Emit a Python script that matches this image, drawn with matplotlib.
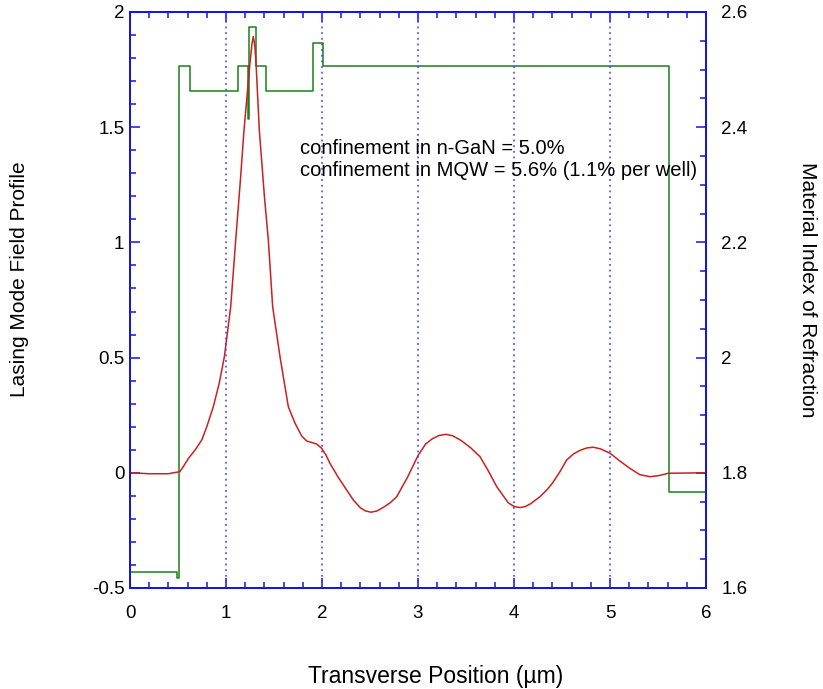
import matplotlib
matplotlib.use("Agg")
import matplotlib.pyplot as plt
from matplotlib.ticker import MultipleLocator, FormatStrFormatter

plt.rcParams["font.family"] = ["Liberation Sans", "DejaVu Sans"]
plt.rcParams["axes.unicode_minus"] = False

# Feldprofil (linke Achse)
pos_um = [0, 0.2, 0.4, 0.52, 0.56, 0.608, 0.68, 0.747, 0.80, 0.868, 0.93, 0.983,
          1.049, 1.101, 1.15, 1.1875, 1.22, 1.25, 1.27, 1.284, 1.30, 1.3125,
          1.347, 1.40, 1.441, 1.486, 1.5625, 1.649, 1.719, 1.788, 1.84, 1.944,
          1.997, 2.04, 2.083, 2.17, 2.257, 2.33, 2.40, 2.45, 2.51, 2.57, 2.64,
          2.71, 2.778, 2.89, 3.003, 3.08, 3.15, 3.22, 3.289, 3.36, 3.45, 3.55,
          3.646, 3.73, 3.82, 3.94, 4.0, 4.0625, 4.12, 4.17, 4.27, 4.34, 4.40,
          4.479, 4.549, 4.62, 4.69, 4.76, 4.826, 4.9, 5.0, 5.1, 5.208, 5.31,
          5.417, 5.51, 5.607, 6.0]
field = [0, -0.004, -0.004, 0.005, 0.03, 0.062, 0.10, 0.142, 0.20, 0.287, 0.39, 0.504,
         0.721, 1.01, 1.27, 1.487, 1.64, 1.78, 1.86, 1.893, 1.855, 1.78,
         1.487, 1.20, 1.01, 0.721, 0.504, 0.287, 0.215, 0.16, 0.138, 0.125,
         0.106, 0.078, 0.041, -0.02, -0.075, -0.12, -0.152, -0.165, -0.171, -0.166, -0.15,
         -0.13, -0.104, -0.02, 0.077, 0.125, 0.148, 0.162, 0.167, 0.161, 0.14, 0.108,
         0.07, 0.01, -0.06, -0.13, -0.146, -0.151, -0.146, -0.135, -0.104, -0.075, -0.045,
         0.005, 0.056, 0.082, 0.098, 0.108, 0.111, 0.104, 0.085, 0.052, 0.019, -0.008,
         -0.017, -0.012, -0.002, 0.0]

# Brechungsindex-Schichten (rechte Achse)
layer_edges = [0, 0.493, 0.514, 0.625, 1.12, 1.226, 1.24, 1.31, 1.413, 1.91,
               2.007, 5.615, 6.0]
layer_index = [1.627, 1.617, 2.506, 2.462, 2.506, 2.414, 2.574, 2.506, 2.462,
               2.546, 2.506, 1.767]

blue = "#1414e6"
fs = 13.5

fig = plt.figure(figsize=(8.23, 6.89), dpi=100)
ax = fig.add_axes([130 / 823, 1 - 588 / 689, 576 / 823, 576 / 689])
ax2 = ax.twinx()

ax2.step(layer_edges, layer_index + [layer_index[-1]], where="post",
         color="#1a801a", lw=1.1)
ax.plot(pos_um, field, color="#cc1f1f", lw=1.1)
ax.set_zorder(ax2.get_zorder() + 1)
ax.patch.set_visible(False)

for x in range(1, 6):
    ax.axvline(x, color="#3c3cff", ls=(0, (1.2, 2.5)), lw=1.1)

ax.set_xlim(0, 6)
ax.set_ylim(-0.5, 2)
ax2.set_ylim(1.6, 2.6)

ax.xaxis.set_major_locator(MultipleLocator(1))
ax.xaxis.set_minor_locator(MultipleLocator(0.2))
ax.yaxis.set_major_locator(MultipleLocator(0.5))
ax.yaxis.set_minor_locator(MultipleLocator(0.1))
ax2.yaxis.set_major_locator(MultipleLocator(0.2))
ax2.yaxis.set_minor_locator(MultipleLocator(0.05))
ax.yaxis.set_major_formatter(FormatStrFormatter("%g"))
ax2.yaxis.set_major_formatter(FormatStrFormatter("%g"))

for a in (ax, ax2):
    for s in a.spines.values():
        s.set_color(blue)
        s.set_linewidth(1.3)

ax.tick_params(which="both", direction="in", color=blue, top=True,
               labelsize=fs, width=1.1)
ax.tick_params(which="major", length=7)
ax.tick_params(which="minor", length=4)
ax.tick_params(axis="x", pad=12)
ax.tick_params(axis="y", pad=4)
ax2.tick_params(which="both", direction="in", color=blue, labelsize=fs,
                width=1.1, pad=11)
ax2.tick_params(which="major", length=7)
ax2.tick_params(which="minor", length=4)

ax.set_xlabel("Transverse Position (µm)", fontsize=16.5, va="center")
ax.xaxis.set_label_coords(0.53, -(677 - 588) / 576)
ax.set_ylabel("Lasing Mode Field Profile", fontsize=15, va="center")
ax.yaxis.set_label_coords((20 - 130) / 576, (588 - 279) / 576)
ax2.set_ylabel("Material Index of Refraction", fontsize=15,
               rotation=-90, va="center")
ax2.yaxis.set_label_coords((808 - 130) / 576, (588 - 290) / 576)

ax.text(1.77, 1.358, "confinement in n-GaN = 5.0%\nconfinement in MQW = 5.6% (1.1% per well)",
        fontsize=14.5, va="center", ha="left", linespacing=1.2)

fig.savefig("out.png", dpi=100)
